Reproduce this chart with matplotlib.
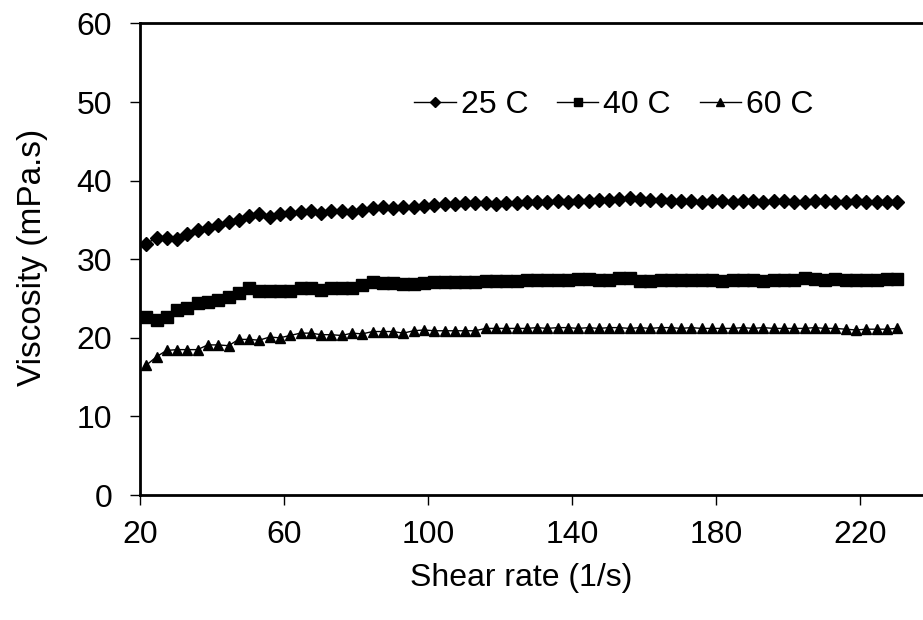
import matplotlib.pyplot as plt

plt.rcParams['font.family'] = ['Liberation Sans', 'DejaVu Sans']

# shear rate (1/s)
shear_rate = [21.7, 24.6, 27.4, 30.3, 33.1, 36.0, 38.8, 41.7, 44.6, 47.4,
              50.3, 53.1, 56.0, 58.8, 61.7, 64.6, 67.4, 70.3, 73.1, 76.0,
              78.9, 81.7, 84.6, 87.4, 90.3, 93.1, 96.0, 98.9, 101.7, 104.6,
              107.4, 110.3, 113.1, 116.0, 118.9, 121.7, 124.6, 127.4, 130.3, 133.1,
              136.0, 138.9, 141.7, 144.6, 147.4, 150.3, 153.1, 156.0, 158.9, 161.7,
              164.6, 167.4, 170.3, 173.1, 176.0, 178.9, 181.7, 184.6, 187.4, 190.3,
              193.1, 196.0, 198.9, 201.7, 204.6, 207.4, 210.3, 213.1, 216.0, 218.9,
              221.7, 224.6, 227.4, 230.3]

# viscosity (mPa.s)
visc_25 = [32.0, 32.7, 32.7, 32.6, 33.2, 33.7, 34.0, 34.4, 34.7, 35.0,
           35.5, 35.7, 35.4, 35.7, 35.9, 36.0, 36.1, 35.9, 36.1, 36.1,
           36.0, 36.3, 36.5, 36.7, 36.5, 36.6, 36.7, 36.8, 36.9, 37.0,
           37.0, 37.1, 37.1, 37.1, 37.0, 37.2, 37.2, 37.3, 37.3, 37.3,
           37.4, 37.3, 37.4, 37.4, 37.5, 37.5, 37.7, 37.8, 37.7, 37.6,
           37.5, 37.4, 37.4, 37.4, 37.3, 37.4, 37.4, 37.3, 37.4, 37.4,
           37.3, 37.4, 37.4, 37.3, 37.3, 37.4, 37.4, 37.3, 37.3, 37.4,
           37.3, 37.3, 37.3, 37.3]
visc_40 = [22.7, 22.3, 22.7, 23.6, 23.8, 24.4, 24.5, 24.8, 25.2, 25.7,
           26.4, 26.0, 25.9, 25.9, 25.9, 26.4, 26.3, 26.1, 26.3, 26.3,
           26.4, 26.7, 27.1, 27.0, 27.0, 26.8, 26.8, 27.0, 27.1, 27.1,
           27.1, 27.1, 27.1, 27.2, 27.2, 27.2, 27.2, 27.3, 27.4, 27.4,
           27.4, 27.4, 27.5, 27.5, 27.3, 27.3, 27.6, 27.6, 27.2, 27.2,
           27.3, 27.3, 27.4, 27.3, 27.3, 27.3, 27.2, 27.3, 27.3, 27.3,
           27.2, 27.3, 27.3, 27.3, 27.6, 27.5, 27.4, 27.5, 27.4, 27.4,
           27.3, 27.4, 27.5, 27.5]
visc_60 = [16.5, 17.6, 18.4, 18.5, 18.5, 18.5, 19.1, 19.1, 19.0, 19.8,
           19.8, 19.7, 20.1, 20.0, 20.3, 20.6, 20.6, 20.4, 20.4, 20.3,
           20.6, 20.5, 20.8, 20.8, 20.8, 20.6, 20.9, 21.0, 20.9, 20.9,
           20.9, 20.9, 20.9, 21.2, 21.2, 21.2, 21.2, 21.2, 21.3, 21.2,
           21.3, 21.3, 21.2, 21.3, 21.2, 21.3, 21.3, 21.2, 21.3, 21.2,
           21.3, 21.3, 21.2, 21.3, 21.2, 21.2, 21.2, 21.2, 21.3, 21.2,
           21.3, 21.2, 21.2, 21.2, 21.2, 21.3, 21.2, 21.2, 21.1, 21.0,
           21.1, 21.1, 21.1, 21.2]

x_ticks = [20, 60, 100, 140, 180, 220]
y_ticks = [0, 10, 20, 30, 40, 50, 60]

fig = plt.figure(figsize=(9.23, 6.2), dpi=100)
# axes runs past the right edge, like the cropped original
ax = fig.add_axes([0.1517, 0.2016, 0.897, 0.7605])

ax.plot(shear_rate, visc_25, color='black', lw=1, marker='D', ms=7, label='25 C')
ax.plot(shear_rate, visc_40, color='black', lw=1, marker='s', ms=8, label='40 C')
ax.plot(shear_rate, visc_60, color='black', lw=1, marker='^', ms=7.5, label='60 C')

ax.set_xlim(20, 250)
ax.set_ylim(0, 60)
ax.set_xticks(x_ticks)
ax.set_yticks(y_ticks)
ax.spines['right'].set_visible(False)
for s in ['left', 'bottom', 'top']:
    ax.spines[s].set_linewidth(2)
ax.tick_params(axis='both', direction='out', length=7, width=1, labelsize=23)
ax.tick_params(axis='y', pad=13)
ax.tick_params(axis='x', pad=11)

fig.text(0.565, 0.068, 'Shear rate (1/s)', fontsize=23, ha='center', va='center')
fig.text(0.035, 0.585, 'Viscosity (mPa.s)', fontsize=24, ha='center', va='center', rotation=90)

ax.legend(loc='center', bbox_to_anchor=(0.665, 0.831), bbox_transform=fig.transFigure,
          ncol=3, frameon=False, fontsize=23, handlelength=1.3, handletextpad=0.15,
          columnspacing=0.9, markerscale=0.75)

plt.savefig('out.png', dpi=100)
